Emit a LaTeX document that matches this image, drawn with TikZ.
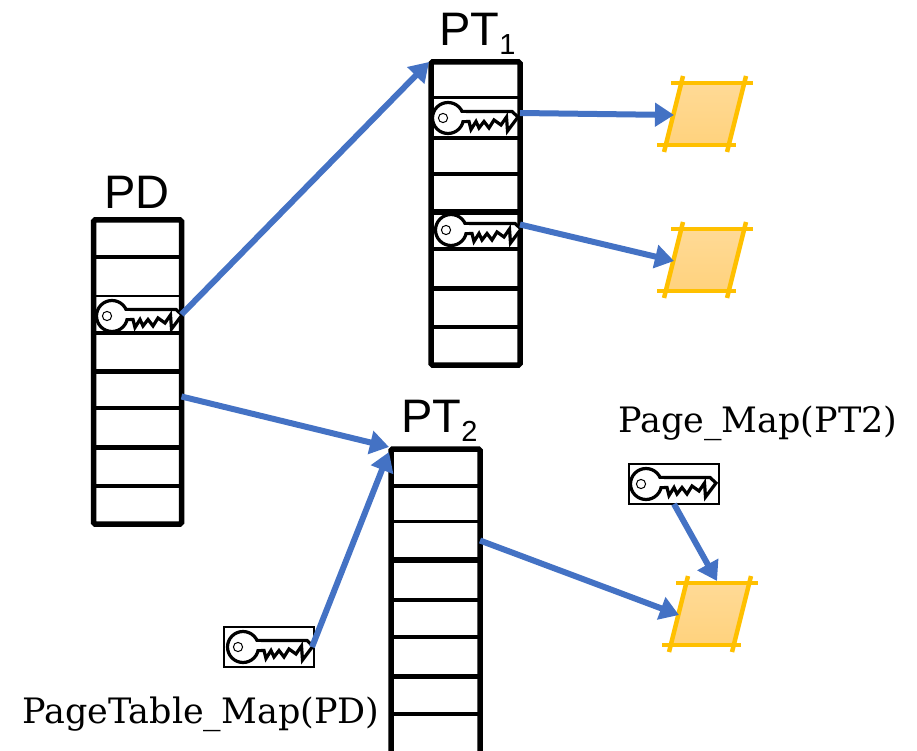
\documentclass[tikz,border=0pt]{standalone}
\usepackage{fontspec}
\setmainfont{Liberation Sans}
\newfontfamily\slabfont{DejaVu Serif}
\usetikzlibrary{arrows.meta}
\definecolor{linkblue}{HTML}{4472C4}
\definecolor{pageline}{HTML}{FFC000}
\definecolor{pagetop}{HTML}{FFDA96}
\definecolor{pagebot}{HTML}{FFD27D}
\newcommand{\subdigit}[1]{\raisebox{-9pt}{\fontsize{29}{29}\selectfont #1}}
\tikzset{
  x=1pt,y=-1pt,
  cellbox/.style={fill=white,minimum width=#1,inner sep=0pt,outer sep=0pt},
  outerbox/.style={draw=black,line width=5.5pt,rounded corners=1.5pt},
  keybox/.style={draw=black,line width=2.4pt,fill=white,minimum width=90pt,minimum height=40pt,inner sep=0pt,outer sep=0pt},
  link/.style={draw=linkblue,line width=6pt,-{Triangle[length=19pt,width=23pt]}},
  headlabel/.style={font=\fontsize{47}{47}\selectfont,inner sep=0pt,anchor=base},
  maplabel/.style={font=\slabfont\fontsize{35}{35}\selectfont,inner sep=0pt,anchor=base},
  pics/keyicon/.style={code={
    \draw[black,line width=3.2pt,fill=white,line join=miter]
      (10,-6.5) -- (64,-6.5) -- (70,-1) -- (59.5,13) -- (58.5,-1) -- (53,7) -- (46,2) -- (41,10) -- (36,3.5) -- (31,10) -- (28,3.5) -- (23,11.5) -- (21,3.5) -- (10,3.5) -- cycle;
    \draw[black,line width=3.2pt,fill=white] (0,0) circle[radius=15.5];
    \fill[white] (9,-4.6) -- (18,-4.6) -- (18,1.9) -- (9,1.9) -- cycle;
    \draw[black,line width=1pt] (-5,0) circle[radius=4.6];
  }},
  pics/pageshape/.style={code={
    \path[top color=pagetop,bottom color=pagebot] (-22,-31) -- (41,-31) -- (22,31) -- (-41,31) -- cycle;
    \draw[pageline,line width=4.5pt] (-34,-31) -- (48,-31);
    \draw[pageline,line width=4.5pt] (-48,31) -- (31,31);
    \draw[pageline,line width=4.5pt] (-22,-38) -- (-41,38);
    \draw[pageline,line width=4.5pt] (41,-38) -- (22,38);
    \coordinate (-west) at (-31,1);
    \coordinate (-top) at (7,-33);
  }}
}
\begin{document}
\begin{tikzpicture}
\useasboundingbox (0,0) rectangle (917,751);
\clip (0,0) rectangle (917,751);

% PD table: cells, then the line above each cell
\foreach \n/\a/\b/\w in {1/220/257/0,2/257/296/4.5,3/296/333/2.5,4/333/371/3.5,5/371/408/5,6/408/447/4,7/447/486/5,8/486/524/4}{
  \node[cellbox=88pt,minimum height={(\b-\a)*1pt}] (PD\n) at (137.5,{(\a+\b)/2}) {};
  \draw[black,line width=\w pt] (PD\n.north west) -- (PD\n.north east);
}
% PT1 table
\foreach \n/\a/\b/\w in {1/62/98/0,2/98/138/3,3/138/174/4,4/174/212/3.5,5/212/249/6,6/249/288/3.5,7/288/327/5,8/327/365/3.5}{
  \node[cellbox=89pt,minimum height={(\b-\a)*1pt}] (PTa\n) at (475.5,{(\a+\b)/2}) {};
  \draw[black,line width=\w pt] (PTa\n.north west) -- (PTa\n.north east);
}
% PT2 table
\foreach \n/\a/\b/\w in {1/449/486/0,2/486/521/4.5,3/521/560/3,4/560/600/6,5/600/637/4.5,6/637/676/3.5,7/676/714/5,8/714/760/4.5}{
  \node[cellbox=89pt,minimum height={(\b-\a)*1pt}] (PTb\n) at (435.5,{(\a+\b)/2}) {};
  \draw[black,line width=\w pt] (PTb\n.north west) -- (PTb\n.north east);
}
\draw[outerbox] (PD1.north west) rectangle (PD8.south east);
\draw[outerbox] (PTa1.north west) rectangle (PTa8.south east);
\draw[outerbox] (PTb1.north west) rectangle (PTb8.south east);

% keys in tables
\pic (keyPD) at (112,316) {keyicon};
\pic (keyA) at (448,118) {keyicon};
\pic (keyB) at (451,230) {keyicon};

% free keys
\node[keybox] (boxL) at (269,647) {};
\pic (keyL) at (243,647) {keyicon};
\node[keybox] (boxR) at (674,484) {};
\pic (keyR) at (646,484) {keyicon};

% pages
\pic (pageA) at (705,114) {pageshape};
\pic (pageB) at (705,260) {pageshape};
\pic (pageC) at (710,614) {pageshape};

% labels
\node[headlabel] (lblPD) at (137,208) {PD};
\node[headlabel,anchor=base west] (lblPTa) at (439,46) {PT\subdigit{1}};
\node[headlabel,anchor=base west] (lblPTb) at (401,432) {PT\subdigit{2}};
\node[maplabel,anchor=base west] (lblR) at (618,432) {Page\_Map(PT2)};
\node[maplabel,anchor=base west] (lblL) at (22,723) {PageTable\_Map(PD)};

% connectors
\draw[link] (PD3.east) -- ([xshift=-2pt]PTa1.north west);
\draw[link] ([yshift=-7pt]PD5.east) -- ([xshift=-2pt,yshift=2pt]PTb1.north west);
\draw[link] ([xshift=-2pt]boxL.east) -- ([xshift=-2pt,yshift=-3pt]PTb1.north west);
\draw[link] ([yshift=5pt]PTa2.east) -- (pageA-west);
\draw[link] ([yshift=6pt]PTa5.east) -- (pageB-west);
\draw[link] (PTb3.east) -- (pageC-west);
\draw[link] (boxR.south) -- (pageC-top);
\end{tikzpicture}
\end{document}
